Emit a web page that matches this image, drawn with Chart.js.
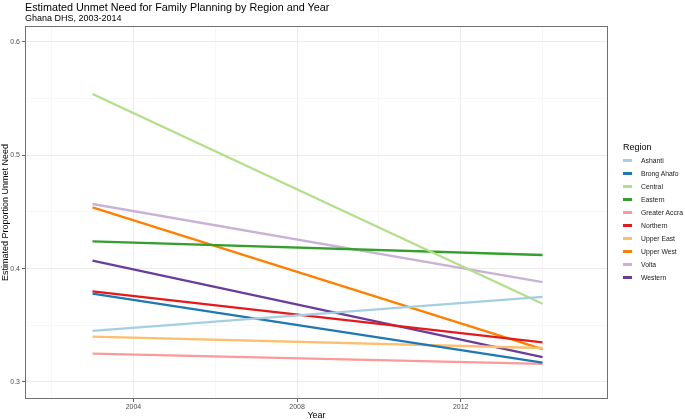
<!DOCTYPE html>
<html>
<head>
<meta charset="utf-8">
<script src="https://cdn.jsdelivr.net/npm/chart.js@4/dist/chart.umd.min.js"></script>
<style>
  body { margin: 0; background: #fff; }
  #wrap { position: relative; width: 685px; height: 420px; font-family: "Liberation Sans", Arial, sans-serif; }
  #title { position: absolute; left: 25px; top: 1px; font-size: 10.8px; line-height: 13px; color: #000; white-space: nowrap; }
  #subtitle { position: absolute; left: 25px; top: 13px; font-size: 9px; line-height: 11px; color: #000; white-space: nowrap; }
  #legend { position: absolute; left: 623px; top: 141px; }
  #legend .ttl { font-size: 9px; line-height: 12px; height: 12px; color: #000; margin-bottom: 1px; }
  #legend .item { position: relative; height: 13px; line-height: 13px; font-size: 6.8px; color: #1a1a1a; white-space: nowrap; }
  #legend .key { position: absolute; left: 0; top: 5.4px; width: 9px; height: 2.2px; }
  #legend .lab { position: absolute; left: 18px; top: 0; }
</style>
</head>
<body>
<div id="wrap">
  <canvas id="chart" width="685" height="420"></canvas>
  <div id="title">Estimated Unmet Need for Family Planning by Region and Year</div>
  <div id="subtitle">Ghana DHS, 2003-2014</div>
  <div id="legend"><div class="ttl">Region</div></div>
</div>
<script>
// survey years
const years = [2003, 2014];

// estimated proportion unmet need per region
const ashanti = [0.345, 0.375];
const brongAhafo = [0.378, 0.317];
const central = [0.554, 0.369];
const eastern = [0.424, 0.412];
const greaterAccra = [0.325, 0.316];
const northern = [0.380, 0.335];
const upperEast = [0.340, 0.330];
const upperWest = [0.454, 0.329];
const volta = [0.457, 0.388];
const western = [0.407, 0.322];

const regions = ["Ashanti", "Brong Ahafo", "Central", "Eastern", "Greater Accra",
                 "Northern", "Upper East", "Upper West", "Volta", "Western"];
const values = [ashanti, brongAhafo, central, eastern, greaterAccra,
                northern, upperEast, upperWest, volta, western];
const colors = ["#A6CEE3", "#1F78B4", "#B2DF8A", "#33A02C", "#FB9A99",
                "#E31A1C", "#FDBF6F", "#FF7F00", "#CAB2D6", "#6A3D9A"];

// tick positions
const xMajor = [2004, 2008, 2012];
const xTicks = [2002, 2004, 2006, 2008, 2010, 2012, 2014];
const yMajor = [0.3, 0.4, 0.5, 0.6];
const yTicks = [0.3, 0.35, 0.4, 0.45, 0.5, 0.55, 0.6];

const FONT = "'Liberation Sans', Arial, sans-serif";

function isMajor(list, v) {
    return list.some(m => Math.abs(m - v) < 1e-6);
}

const datasets = regions.map((name, i) => ({
    label: name,
    data: years.map((yr, j) => ({ x: yr, y: values[i][j] })),
    borderColor: colors[i],
    backgroundColor: colors[i],
    borderWidth: 2.3,
    pointRadius: 0,
    tension: 0
}));

// full panel border like theme_bw
const panelBorder = {
    id: "panelBorder",
    afterDraw(chart) {
        const a = chart.chartArea;
        const ctx = chart.ctx;
        ctx.save();
        ctx.strokeStyle = "#707070";
        ctx.lineWidth = 1;
        ctx.strokeRect(a.left + 0.5, a.top + 0.5, a.right - a.left - 1, a.bottom - a.top - 1);
        ctx.restore();
    }
};

const chart = new Chart(document.getElementById("chart"), {
    type: "line",
    data: { datasets: datasets },
    plugins: [panelBorder],
    options: {
        responsive: false,
        animation: false,
        layout: { padding: { top: 26, right: 77, bottom: 0, left: 0 } },
        plugins: {
            title: { display: false },
            tooltip: { enabled: false },
            legend: { display: false }
        },
        scales: {
            x: {
                type: "linear",
                min: 2001.35,
                max: 2015.6,
                afterBuildTicks(scale) { scale.ticks = xTicks.map(v => ({ value: v })); },
                afterFit(scale) { scale.height = 21; },
                border: { display: false },
                grid: {
                    color: ctx => isMajor(xMajor, ctx.tick.value) ? "#ebebeb" : "#f4f4f4",
                    lineWidth: ctx => isMajor(xMajor, ctx.tick.value) ? 1 : 0.7,
                    tickColor: ctx => isMajor(xMajor, ctx.tick.value) ? "#666" : "rgba(0,0,0,0)",
                    tickLength: 3
                },
                ticks: {
                    autoSkip: false,
                    maxRotation: 0,
                    padding: 1,
                    color: "#4d4d4d",
                    font: { family: FONT, size: 7 },
                    callback: v => isMajor(xMajor, v) ? String(v) : ""
                },
                title: {
                    display: true,
                    text: "Year",
                    color: "#000",
                    font: { family: FONT, size: 9, lineHeight: 1 },
                    padding: { top: 0, bottom: 0 }
                }
            },
            y: {
                min: 0.285,
                max: 0.614,
                afterBuildTicks(scale) { scale.ticks = yTicks.map(v => ({ value: v })); },
                afterFit(scale) { scale.width = 25; },
                border: { display: false },
                grid: {
                    color: ctx => isMajor(yMajor, ctx.tick.value) ? "#ebebeb" : "#f4f4f4",
                    lineWidth: ctx => isMajor(yMajor, ctx.tick.value) ? 1 : 0.7,
                    tickColor: ctx => isMajor(yMajor, ctx.tick.value) ? "#666" : "rgba(0,0,0,0)",
                    tickLength: 3
                },
                ticks: {
                    autoSkip: false,
                    padding: 2,
                    color: "#4d4d4d",
                    font: { family: FONT, size: 7 },
                    callback: v => isMajor(yMajor, v) ? v.toFixed(1) : ""
                },
                title: {
                    display: true,
                    text: "Estimated Proportion Unmet Need",
                    color: "#000",
                    font: { family: FONT, size: 9 },
                    padding: { top: 0, bottom: 0 }
                }
            }
        }
    }
});

// legend built from the chart's datasets
const legend = document.getElementById("legend");
chart.data.datasets.forEach(ds => {
    const item = document.createElement("div");
    item.className = "item";
    const key = document.createElement("span");
    key.className = "key";
    key.style.background = ds.borderColor;
    const lab = document.createElement("span");
    lab.className = "lab";
    lab.textContent = ds.label;
    item.appendChild(key);
    item.appendChild(lab);
    legend.appendChild(item);
});
</script>
</body>
</html>
